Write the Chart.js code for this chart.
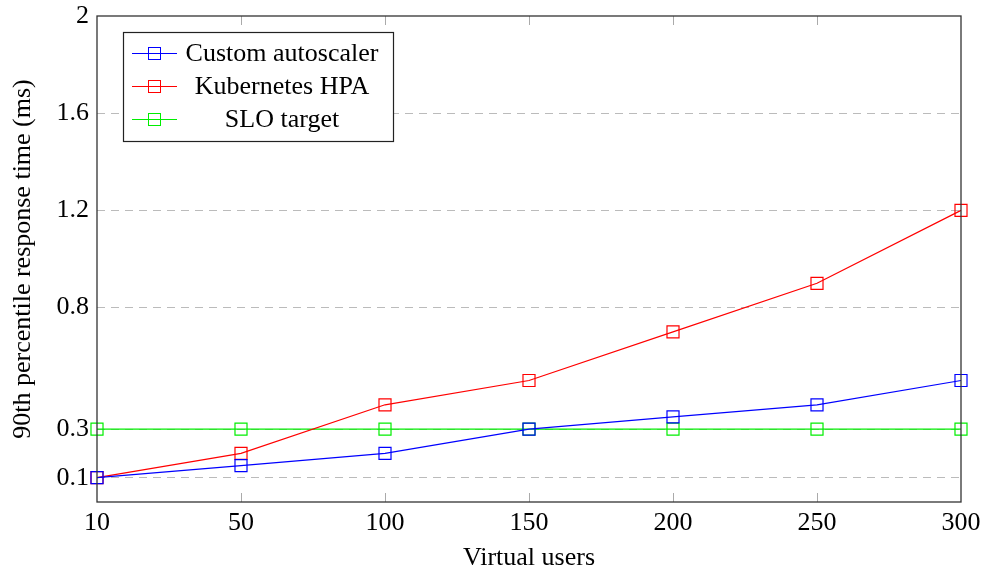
<!DOCTYPE html>
<html>
<head>
<meta charset="utf-8">
<script src="https://cdn.jsdelivr.net/npm/chart.js@4/dist/chart.umd.min.js"></script>
<style>
  html, body { margin: 0; padding: 0; background: #fff; }
  #wrap { width: 983px; height: 574px; }
</style>
</head>
<body>
<div id="wrap"><canvas id="myChart" width="983" height="574"></canvas></div>
<script>
const users = ['10', '50', '100', '150', '200', '250', '300'];
const customScaler = [0.1, 0.15, 0.2, 0.3, 0.35, 0.4, 0.5];
const kubernetesHpa = [0.1, 0.2, 0.4, 0.5, 0.7, 0.9, 1.2];
const sloTarget = [0.3, 0.3, 0.3, 0.3, 0.3, 0.3, 0.3];
const yTicks = [0.1, 0.3, 0.8, 1.2, 1.6, 2];

const FONT = '"Liberation Serif", "Times New Roman", serif';

/**
 * Frame, inward tick marks and the boxed legend in the upper left.
 */
const framePlugin = {
    id: 'frame',
    afterDraw(chart) {
        const ctx = chart.ctx;
        const area = chart.chartArea;
        const x = chart.scales.x;
        ctx.save();
        ctx.strokeStyle = '#aaaaaa';
        ctx.lineWidth = 1;
        for (let i = 1; i < users.length - 1; i++) {
            const px = Math.round(x.getPixelForValue(i)) + 0.5;
            ctx.beginPath();
            ctx.moveTo(px, area.bottom);
            ctx.lineTo(px, area.bottom - 9);
            ctx.moveTo(px, area.top);
            ctx.lineTo(px, area.top + 9);
            ctx.stroke();
        }
        ctx.strokeStyle = '#333333';
        ctx.lineWidth = 1.3;
        ctx.strokeRect(area.left, area.top, area.right - area.left, area.bottom - area.top);

        // legend
        const bx = 123, by = 32, bw = 270, bh = 109;
        ctx.fillStyle = '#ffffff';
        ctx.fillRect(bx, by, bw, bh);
        ctx.strokeStyle = '#222222';
        ctx.lineWidth = 1.2;
        ctx.strokeRect(bx + 0.5, by + 0.5, bw, bh);
        ctx.font = '26px ' + FONT;
        ctx.textAlign = 'center';
        ctx.textBaseline = 'middle';
        chart.data.datasets.forEach((ds, i) => {
            const cy = by + 21 + i * 33;
            ctx.strokeStyle = ds.borderColor;
            ctx.lineWidth = 1;
            ctx.beginPath();
            ctx.moveTo(132, cy + 0.5);
            ctx.lineTo(177, cy + 0.5);
            ctx.stroke();
            ctx.strokeRect(148.5, cy - 5.5, 12, 12);
            ctx.fillStyle = '#000000';
            ctx.fillText(ds.label, 282, cy + 1);
        });
        ctx.restore();
    }
};

function makeSet(label, data, color) {
    return {
        label: label,
        data: data,
        borderColor: color,
        backgroundColor: 'rgba(0,0,0,0)',
        borderWidth: 1.2,
        pointStyle: 'rect',
        pointRadius: 8.5,
        pointHoverRadius: 8.5,
        pointBorderWidth: 1.2,
        pointBackgroundColor: 'rgba(0,0,0,0)',
        pointBorderColor: color,
        tension: 0,
        clip: false
    };
}

function initChart() {
    const ctx = document.getElementById('myChart').getContext('2d');
    new Chart(ctx, {
        type: 'line',
        data: {
            labels: users,
            datasets: [
                makeSet('Custom autoscaler', customScaler, '#0000ff'),
                makeSet('Kubernetes HPA', kubernetesHpa, '#ff0000'),
                makeSet('SLO target', sloTarget, '#00ee00')
            ]
        },
        options: {
            responsive: false,
            animation: false,
            layout: {
                padding: { left: 0, right: 22, top: 16, bottom: 0 }
            },
            plugins: {
                legend: { display: false },
                tooltip: { enabled: false }
            },
            scales: {
                x: {
                    type: 'category',
                    offset: false,
                    grid: { display: false, drawTicks: false },
                    border: { display: false },
                    ticks: {
                        color: '#000',
                        padding: 6,
                        maxRotation: 0,
                        font: { family: FONT, size: 26 }
                    },
                    title: {
                        display: true,
                        text: 'Virtual users',
                        color: '#000',
                        padding: { top: 0, bottom: 0 },
                        font: { family: FONT, size: 26 }
                    },
                    afterFit(scale) {
                        scale.height = 72;
                        scale.paddingRight = 0;
                        scale.paddingLeft = 0;
                    }
                },
                y: {
                    type: 'linear',
                    min: 0,
                    max: 2,
                    afterBuildTicks(scale) {
                        scale.ticks = yTicks.map(v => ({ value: v }));
                    },
                    grid: {
                        color: (c) => (c.tick && c.tick.value === 2 ? 'rgba(0,0,0,0)' : '#bbbbbb'),
                        lineWidth: 1,
                        drawTicks: false
                    },
                    border: { display: false, dash: [8, 6] },
                    ticks: {
                        color: '#000',
                        padding: 8,
                        font: { family: FONT, size: 26, lineHeight: 0.6 },
                        callback: (v) => String(v)
                    },
                    title: {
                        display: true,
                        text: '90th percentile response time (ms)',
                        color: '#000',
                        padding: { top: 8, bottom: 0 },
                        font: { family: FONT, size: 26 }
                    },
                    afterFit(scale) { scale.width = 97; }
                }
            }
        },
        plugins: [framePlugin]
    });
}

initChart();
</script>
</body>
</html>
